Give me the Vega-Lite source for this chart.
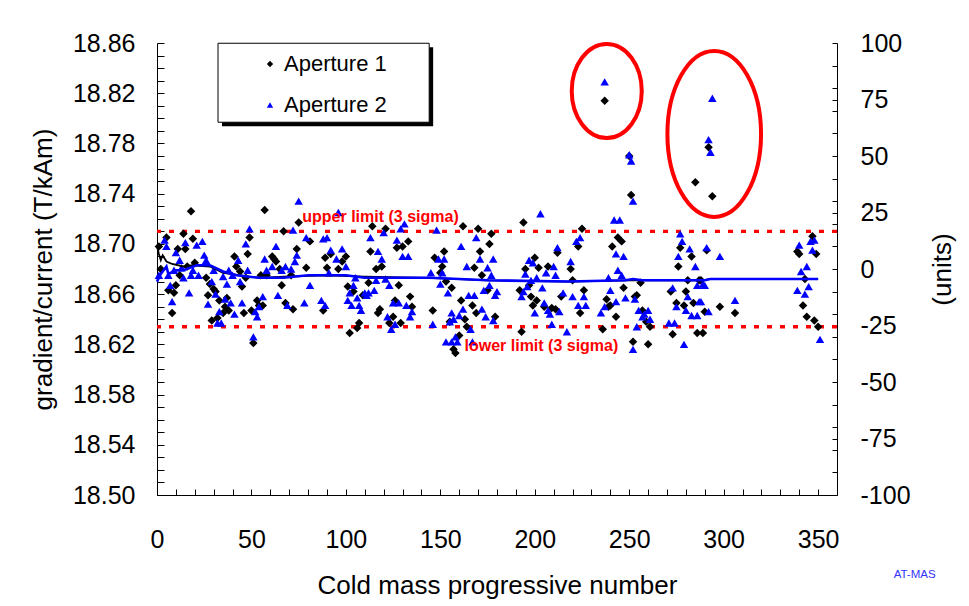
{
"$schema": "https://vega.github.io/schema/vega-lite/v6.json",
"width": 680, "height": 452,
"autosize": {"type": "none"},
"padding": {"left": 157, "top": 43, "right": 132, "bottom": 111},
"background": "white",
"config": {"view": {"stroke": null}, "font": "Liberation Sans",
  "axis": {"grid": false, "domainColor": "black", "tickColor": "black", "labelColor": "black", "titleColor": "black", "labelFont": "Liberation Sans", "titleFont": "Liberation Sans", "titleFontWeight": "normal", "labelOverlap": false, "labelBound": false, "labelFlush": false}},
"datasets": {
"pts": [
{"n":18,"g":18.726,"s":"Aperture 1"},{"n":57,"g":18.727,"s":"Aperture 1"},{"n":14,"g":18.708,"s":"Aperture 1"},{"n":19,"g":18.704,"s":"Aperture 1"},{"n":5,"g":18.705,"s":"Aperture 1"},{"n":49,"g":18.705,"s":"Aperture 1"},{"n":67,"g":18.710,"s":"Aperture 1"},{"n":1,"g":18.698,"s":"Aperture 1"},{"n":11,"g":18.696,"s":"Aperture 1"},{"n":15,"g":18.696,"s":"Aperture 1"},{"n":20,"g":18.685,"s":"Aperture 1"},{"n":48,"g":18.692,"s":"Aperture 1"},{"n":41,"g":18.690,"s":"Aperture 1"},{"n":42,"g":18.682,"s":"Aperture 1"},{"n":44,"g":18.678,"s":"Aperture 1"},{"n":61,"g":18.690,"s":"Aperture 1"},{"n":62,"g":18.688,"s":"Aperture 1"},{"n":2,"g":18.680,"s":"Aperture 1"},{"n":12,"g":18.675,"s":"Aperture 1"},{"n":16,"g":18.682,"s":"Aperture 1"},{"n":26,"g":18.673,"s":"Aperture 1"},{"n":28,"g":18.668,"s":"Aperture 1"},{"n":30,"g":18.664,"s":"Aperture 1"},{"n":31,"g":18.662,"s":"Aperture 1"},{"n":6,"g":18.663,"s":"Aperture 1"},{"n":9,"g":18.661,"s":"Aperture 1"},{"n":10,"g":18.667,"s":"Aperture 1"},{"n":27,"g":18.659,"s":"Aperture 1"},{"n":33,"g":18.655,"s":"Aperture 1"},{"n":37,"g":18.657,"s":"Aperture 1"},{"n":36,"g":18.650,"s":"Aperture 1"},{"n":38,"g":18.647,"s":"Aperture 1"},{"n":35,"g":18.645,"s":"Aperture 1"},{"n":32,"g":18.641,"s":"Aperture 1"},{"n":29,"g":18.639,"s":"Aperture 1"},{"n":8,"g":18.645,"s":"Aperture 1"},{"n":45,"g":18.666,"s":"Aperture 1"},{"n":47,"g":18.673,"s":"Aperture 1"},{"n":46,"g":18.645,"s":"Aperture 1"},{"n":50,"g":18.647,"s":"Aperture 1"},{"n":53,"g":18.655,"s":"Aperture 1"},{"n":54,"g":18.651,"s":"Aperture 1"},{"n":56,"g":18.651,"s":"Aperture 1"},{"n":51,"g":18.621,"s":"Aperture 1"},{"n":55,"g":18.675,"s":"Aperture 1"},{"n":58,"g":18.675,"s":"Aperture 1"},{"n":66,"g":18.667,"s":"Aperture 1"},{"n":68,"g":18.653,"s":"Aperture 1"},{"n":63,"g":18.686,"s":"Aperture 1"},{"n":65,"g":18.680,"s":"Aperture 1"},
{"n":75,"g":18.717,"s":"Aperture 1"},{"n":114,"g":18.714,"s":"Aperture 1"},{"n":121,"g":18.712,"s":"Aperture 1"},{"n":81,"g":18.702,"s":"Aperture 1"},{"n":133,"g":18.702,"s":"Aperture 1"},{"n":130,"g":18.698,"s":"Aperture 1"},{"n":127,"g":18.697,"s":"Aperture 1"},{"n":74,"g":18.696,"s":"Aperture 1"},{"n":113,"g":18.694,"s":"Aperture 1"},{"n":89,"g":18.689,"s":"Aperture 1"},{"n":92,"g":18.692,"s":"Aperture 1"},{"n":100,"g":18.690,"s":"Aperture 1"},{"n":98,"g":18.686,"s":"Aperture 1"},{"n":79,"g":18.681,"s":"Aperture 1"},{"n":90,"g":18.681,"s":"Aperture 1"},{"n":96,"g":18.680,"s":"Aperture 1"},{"n":119,"g":18.682,"s":"Aperture 1"},{"n":116,"g":18.680,"s":"Aperture 1"},{"n":71,"g":18.675,"s":"Aperture 1"},{"n":112,"g":18.669,"s":"Aperture 1"},{"n":101,"g":18.666,"s":"Aperture 1"},{"n":104,"g":18.662,"s":"Aperture 1"},{"n":109,"g":18.659,"s":"Aperture 1"},{"n":128,"g":18.667,"s":"Aperture 1"},{"n":88,"g":18.647,"s":"Aperture 1"},{"n":72,"g":18.648,"s":"Aperture 1"},{"n":126,"g":18.655,"s":"Aperture 1"},{"n":134,"g":18.658,"s":"Aperture 1"},{"n":135,"g":18.650,"s":"Aperture 1"},{"n":118,"g":18.648,"s":"Aperture 1"},{"n":117,"g":18.645,"s":"Aperture 1"},{"n":125,"g":18.642,"s":"Aperture 1"},{"n":123,"g":18.637,"s":"Aperture 1"},{"n":129,"g":18.637,"s":"Aperture 1"},{"n":107,"g":18.637,"s":"Aperture 1"},{"n":106,"g":18.633,"s":"Aperture 1"},{"n":102,"g":18.629,"s":"Aperture 1"},
{"n":162,"g":18.714,"s":"Aperture 1"},{"n":170,"g":18.712,"s":"Aperture 1"},{"n":177,"g":18.708,"s":"Aperture 1"},{"n":176,"g":18.700,"s":"Aperture 1"},{"n":194,"g":18.717,"s":"Aperture 1"},{"n":152,"g":18.694,"s":"Aperture 1"},{"n":171,"g":18.694,"s":"Aperture 1"},{"n":147,"g":18.689,"s":"Aperture 1"},{"n":151,"g":18.682,"s":"Aperture 1"},{"n":168,"g":18.681,"s":"Aperture 1"},{"n":212,"g":18.693,"s":"Aperture 1"},{"n":200,"g":18.689,"s":"Aperture 1"},{"n":202,"g":18.681,"s":"Aperture 1"},{"n":207,"g":18.682,"s":"Aperture 1"},{"n":195,"g":18.680,"s":"Aperture 1"},{"n":150,"g":18.677,"s":"Aperture 1"},{"n":172,"g":18.675,"s":"Aperture 1"},{"n":153,"g":18.670,"s":"Aperture 1"},{"n":156,"g":18.665,"s":"Aperture 1"},{"n":175,"g":18.663,"s":"Aperture 1"},{"n":192,"g":18.663,"s":"Aperture 1"},{"n":197,"g":18.667,"s":"Aperture 1"},{"n":198,"g":18.658,"s":"Aperture 1"},{"n":214,"g":18.658,"s":"Aperture 1"},{"n":161,"g":18.655,"s":"Aperture 1"},{"n":167,"g":18.651,"s":"Aperture 1"},{"n":199,"g":18.651,"s":"Aperture 1"},{"n":201,"g":18.655,"s":"Aperture 1"},{"n":205,"g":18.650,"s":"Aperture 1"},{"n":209,"g":18.649,"s":"Aperture 1"},{"n":211,"g":18.648,"s":"Aperture 1"},{"n":146,"g":18.647,"s":"Aperture 1"},{"n":169,"g":18.645,"s":"Aperture 1"},{"n":179,"g":18.642,"s":"Aperture 1"},{"n":163,"g":18.640,"s":"Aperture 1"},{"n":155,"g":18.638,"s":"Aperture 1"},{"n":164,"g":18.634,"s":"Aperture 1"},{"n":193,"g":18.630,"s":"Aperture 1"},{"n":160,"g":18.627,"s":"Aperture 1"},{"n":157,"g":18.616,"s":"Aperture 1"},{"n":158,"g":18.613,"s":"Aperture 1"},
{"n":285,"g":18.749,"s":"Aperture 1"},{"n":251,"g":18.739,"s":"Aperture 1"},{"n":225,"g":18.712,"s":"Aperture 1"},{"n":223,"g":18.698,"s":"Aperture 1"},{"n":244,"g":18.705,"s":"Aperture 1"},{"n":246,"g":18.702,"s":"Aperture 1"},{"n":241,"g":18.698,"s":"Aperture 1"},{"n":277,"g":18.697,"s":"Aperture 1"},{"n":283,"g":18.690,"s":"Aperture 1"},{"n":276,"g":18.682,"s":"Aperture 1"},{"n":219,"g":18.680,"s":"Aperture 1"},{"n":220,"g":18.671,"s":"Aperture 1"},{"n":256,"g":18.669,"s":"Aperture 1"},{"n":226,"g":18.663,"s":"Aperture 1"},{"n":247,"g":18.665,"s":"Aperture 1"},{"n":272,"g":18.662,"s":"Aperture 1"},{"n":281,"g":18.671,"s":"Aperture 1"},{"n":287,"g":18.671,"s":"Aperture 1"},{"n":238,"g":18.656,"s":"Aperture 1"},{"n":253,"g":18.658,"s":"Aperture 1"},{"n":254,"g":18.659,"s":"Aperture 1"},{"n":280,"g":18.662,"s":"Aperture 1"},{"n":275,"g":18.653,"s":"Aperture 1"},{"n":284,"g":18.653,"s":"Aperture 1"},{"n":240,"g":18.651,"s":"Aperture 1"},{"n":239,"g":18.650,"s":"Aperture 1"},{"n":257,"g":18.647,"s":"Aperture 1"},{"n":279,"g":18.651,"s":"Aperture 1"},{"n":224,"g":18.645,"s":"Aperture 1"},{"n":243,"g":18.642,"s":"Aperture 1"},{"n":259,"g":18.638,"s":"Aperture 1"},{"n":261,"g":18.634,"s":"Aperture 1"},{"n":236,"g":18.632,"s":"Aperture 1"},{"n":273,"g":18.628,"s":"Aperture 1"},{"n":286,"g":18.629,"s":"Aperture 1"},{"n":252,"g":18.622,"s":"Aperture 1"},{"n":260,"g":18.620,"s":"Aperture 1"},
{"n":294,"g":18.738,"s":"Aperture 1"},{"n":291,"g":18.695,"s":"Aperture 1"},{"n":339,"g":18.694,"s":"Aperture 1"},{"n":340,"g":18.692,"s":"Aperture 1"},{"n":347,"g":18.706,"s":"Aperture 1"},{"n":349,"g":18.692,"s":"Aperture 1"},{"n":343,"g":18.672,"s":"Aperture 1"},{"n":288,"g":18.671,"s":"Aperture 1"},{"n":342,"g":18.651,"s":"Aperture 1"},{"n":298,"g":18.650,"s":"Aperture 1"},{"n":290,"g":18.646,"s":"Aperture 1"},{"n":306,"g":18.645,"s":"Aperture 1"},{"n":344,"g":18.642,"s":"Aperture 1"},{"n":348,"g":18.639,"s":"Aperture 1"},{"n":350,"g":18.634,"s":"Aperture 1"},{"n":289,"g":18.629,"s":"Aperture 1"},{"n":237,"g":18.814,"s":"Aperture 1"},{"n":292,"g":18.777,"s":"Aperture 1"},{"n":250,"g":18.770,"s":"Aperture 1"},
{"n":4,"g":18.703,"s":"Aperture 2"},{"n":5,"g":18.698,"s":"Aperture 2"},{"n":15,"g":18.701,"s":"Aperture 2"},{"n":21,"g":18.699,"s":"Aperture 2"},{"n":24,"g":18.702,"s":"Aperture 2"},{"n":10,"g":18.693,"s":"Aperture 2"},{"n":12,"g":18.687,"s":"Aperture 2"},{"n":13,"g":18.681,"s":"Aperture 2"},{"n":25,"g":18.691,"s":"Aperture 2"},{"n":26,"g":18.687,"s":"Aperture 2"},{"n":49,"g":18.712,"s":"Aperture 2"},{"n":47,"g":18.700,"s":"Aperture 2"},{"n":43,"g":18.687,"s":"Aperture 2"},{"n":63,"g":18.698,"s":"Aperture 2"},{"n":57,"g":18.688,"s":"Aperture 2"},{"n":1,"g":18.675,"s":"Aperture 2"},{"n":6,"g":18.675,"s":"Aperture 2"},{"n":9,"g":18.679,"s":"Aperture 2"},{"n":14,"g":18.673,"s":"Aperture 2"},{"n":18,"g":18.675,"s":"Aperture 2"},{"n":19,"g":18.679,"s":"Aperture 2"},{"n":22,"g":18.675,"s":"Aperture 2"},{"n":30,"g":18.679,"s":"Aperture 2"},{"n":38,"g":18.679,"s":"Aperture 2"},{"n":48,"g":18.679,"s":"Aperture 2"},{"n":58,"g":18.679,"s":"Aperture 2"},{"n":61,"g":18.682,"s":"Aperture 2"},{"n":66,"g":18.679,"s":"Aperture 2"},{"n":68,"g":18.682,"s":"Aperture 2"},{"n":35,"g":18.674,"s":"Aperture 2"},{"n":40,"g":18.675,"s":"Aperture 2"},{"n":44,"g":18.670,"s":"Aperture 2"},{"n":29,"g":18.670,"s":"Aperture 2"},{"n":37,"g":18.668,"s":"Aperture 2"},{"n":7,"g":18.667,"s":"Aperture 2"},{"n":17,"g":18.661,"s":"Aperture 2"},{"n":8,"g":18.654,"s":"Aperture 2"},{"n":31,"g":18.660,"s":"Aperture 2"},{"n":27,"g":18.652,"s":"Aperture 2"},{"n":36,"g":18.656,"s":"Aperture 2"},{"n":39,"g":18.653,"s":"Aperture 2"},{"n":45,"g":18.653,"s":"Aperture 2"},{"n":56,"g":18.658,"s":"Aperture 2"},{"n":54,"g":18.650,"s":"Aperture 2"},{"n":52,"g":18.646,"s":"Aperture 2"},{"n":53,"g":18.642,"s":"Aperture 2"},{"n":41,"g":18.644,"s":"Aperture 2"},{"n":33,"g":18.646,"s":"Aperture 2"},{"n":32,"g":18.637,"s":"Aperture 2"},{"n":34,"g":18.637,"s":"Aperture 2"},{"n":64,"g":18.659,"s":"Aperture 2"},{"n":51,"g":18.626,"s":"Aperture 2"},{"n":69,"g":18.651,"s":"Aperture 2"},
{"n":75,"g":18.734,"s":"Aperture 2"},{"n":96,"g":18.725,"s":"Aperture 2"},{"n":72,"g":18.711,"s":"Aperture 2"},{"n":129,"g":18.712,"s":"Aperture 2"},{"n":131,"g":18.716,"s":"Aperture 2"},{"n":120,"g":18.709,"s":"Aperture 2"},{"n":113,"g":18.705,"s":"Aperture 2"},{"n":79,"g":18.705,"s":"Aperture 2"},{"n":90,"g":18.705,"s":"Aperture 2"},{"n":88,"g":18.704,"s":"Aperture 2"},{"n":127,"g":18.703,"s":"Aperture 2"},{"n":98,"g":18.696,"s":"Aperture 2"},{"n":92,"g":18.695,"s":"Aperture 2"},{"n":117,"g":18.694,"s":"Aperture 2"},{"n":74,"g":18.691,"s":"Aperture 2"},{"n":95,"g":18.688,"s":"Aperture 2"},{"n":119,"g":18.688,"s":"Aperture 2"},{"n":130,"g":18.690,"s":"Aperture 2"},{"n":133,"g":18.690,"s":"Aperture 2"},{"n":73,"g":18.686,"s":"Aperture 2"},{"n":100,"g":18.682,"s":"Aperture 2"},{"n":71,"g":18.680,"s":"Aperture 2"},{"n":91,"g":18.677,"s":"Aperture 2"},{"n":105,"g":18.673,"s":"Aperture 2"},{"n":116,"g":18.671,"s":"Aperture 2"},{"n":121,"g":18.672,"s":"Aperture 2"},{"n":81,"g":18.667,"s":"Aperture 2"},{"n":104,"g":18.667,"s":"Aperture 2"},{"n":102,"g":18.661,"s":"Aperture 2"},{"n":110,"g":18.661,"s":"Aperture 2"},{"n":112,"g":18.661,"s":"Aperture 2"},{"n":115,"g":18.663,"s":"Aperture 2"},{"n":101,"g":18.655,"s":"Aperture 2"},{"n":106,"g":18.657,"s":"Aperture 2"},{"n":111,"g":18.659,"s":"Aperture 2"},{"n":123,"g":18.667,"s":"Aperture 2"},{"n":87,"g":18.655,"s":"Aperture 2"},{"n":78,"g":18.653,"s":"Aperture 2"},{"n":89,"g":18.651,"s":"Aperture 2"},{"n":103,"g":18.651,"s":"Aperture 2"},{"n":107,"g":18.651,"s":"Aperture 2"},{"n":108,"g":18.647,"s":"Aperture 2"},{"n":125,"g":18.653,"s":"Aperture 2"},{"n":128,"g":18.653,"s":"Aperture 2"},{"n":132,"g":18.651,"s":"Aperture 2"},{"n":135,"g":18.646,"s":"Aperture 2"},{"n":134,"g":18.642,"s":"Aperture 2"},{"n":122,"g":18.642,"s":"Aperture 2"},{"n":126,"g":18.636,"s":"Aperture 2"},{"n":124,"g":18.632,"s":"Aperture 2"},
{"n":148,"g":18.711,"s":"Aperture 2"},{"n":169,"g":18.705,"s":"Aperture 2"},{"n":203,"g":18.724,"s":"Aperture 2"},{"n":161,"g":18.698,"s":"Aperture 2"},{"n":149,"g":18.688,"s":"Aperture 2"},{"n":152,"g":18.688,"s":"Aperture 2"},{"n":171,"g":18.688,"s":"Aperture 2"},{"n":178,"g":18.688,"s":"Aperture 2"},{"n":164,"g":18.682,"s":"Aperture 2"},{"n":175,"g":18.681,"s":"Aperture 2"},{"n":212,"g":18.697,"s":"Aperture 2"},{"n":197,"g":18.687,"s":"Aperture 2"},{"n":199,"g":18.685,"s":"Aperture 2"},{"n":210,"g":18.682,"s":"Aperture 2"},{"n":206,"g":18.677,"s":"Aperture 2"},{"n":201,"g":18.673,"s":"Aperture 2"},{"n":195,"g":18.676,"s":"Aperture 2"},{"n":145,"g":18.677,"s":"Aperture 2"},{"n":151,"g":18.677,"s":"Aperture 2"},{"n":177,"g":18.675,"s":"Aperture 2"},{"n":211,"g":18.675,"s":"Aperture 2"},{"n":198,"g":18.671,"s":"Aperture 2"},{"n":150,"g":18.668,"s":"Aperture 2"},{"n":176,"g":18.667,"s":"Aperture 2"},{"n":173,"g":18.663,"s":"Aperture 2"},{"n":180,"g":18.662,"s":"Aperture 2"},{"n":196,"g":18.666,"s":"Aperture 2"},{"n":194,"g":18.662,"s":"Aperture 2"},{"n":204,"g":18.665,"s":"Aperture 2"},{"n":193,"g":18.658,"s":"Aperture 2"},{"n":154,"g":18.661,"s":"Aperture 2"},{"n":165,"g":18.659,"s":"Aperture 2"},{"n":168,"g":18.659,"s":"Aperture 2"},{"n":179,"g":18.659,"s":"Aperture 2"},{"n":215,"g":18.661,"s":"Aperture 2"},{"n":205,"g":18.653,"s":"Aperture 2"},{"n":207,"g":18.647,"s":"Aperture 2"},{"n":208,"g":18.644,"s":"Aperture 2"},{"n":213,"g":18.646,"s":"Aperture 2"},{"n":162,"g":18.648,"s":"Aperture 2"},{"n":172,"g":18.648,"s":"Aperture 2"},{"n":160,"g":18.643,"s":"Aperture 2"},{"n":156,"g":18.645,"s":"Aperture 2"},{"n":200,"g":18.645,"s":"Aperture 2"},{"n":174,"g":18.642,"s":"Aperture 2"},{"n":178,"g":18.639,"s":"Aperture 2"},{"n":157,"g":18.640,"s":"Aperture 2"},{"n":155,"g":18.638,"s":"Aperture 2"},{"n":166,"g":18.632,"s":"Aperture 2"},{"n":146,"g":18.636,"s":"Aperture 2"},{"n":209,"g":18.636,"s":"Aperture 2"},{"n":217,"g":18.630,"s":"Aperture 2"},{"n":158,"g":18.626,"s":"Aperture 2"},{"n":153,"g":18.622,"s":"Aperture 2"},{"n":156,"g":18.622,"s":"Aperture 2"},{"n":159,"g":18.622,"s":"Aperture 2"},{"n":167,"g":18.622,"s":"Aperture 2"},
{"n":242,"g":18.719,"s":"Aperture 2"},{"n":245,"g":18.719,"s":"Aperture 2"},{"n":224,"g":18.705,"s":"Aperture 2"},{"n":222,"g":18.702,"s":"Aperture 2"},{"n":243,"g":18.692,"s":"Aperture 2"},{"n":247,"g":18.690,"s":"Aperture 2"},{"n":277,"g":18.708,"s":"Aperture 2"},{"n":278,"g":18.702,"s":"Aperture 2"},{"n":282,"g":18.696,"s":"Aperture 2"},{"n":291,"g":18.697,"s":"Aperture 2"},{"n":276,"g":18.690,"s":"Aperture 2"},{"n":285,"g":18.682,"s":"Aperture 2"},{"n":219,"g":18.686,"s":"Aperture 2"},{"n":244,"g":18.679,"s":"Aperture 2"},{"n":246,"g":18.675,"s":"Aperture 2"},{"n":239,"g":18.673,"s":"Aperture 2"},{"n":240,"g":18.663,"s":"Aperture 2"},{"n":273,"g":18.665,"s":"Aperture 2"},{"n":286,"g":18.667,"s":"Aperture 2"},{"n":289,"g":18.668,"s":"Aperture 2"},{"n":220,"g":18.658,"s":"Aperture 2"},{"n":226,"g":18.658,"s":"Aperture 2"},{"n":243,"g":18.654,"s":"Aperture 2"},{"n":248,"g":18.657,"s":"Aperture 2"},{"n":253,"g":18.656,"s":"Aperture 2"},{"n":281,"g":18.658,"s":"Aperture 2"},{"n":287,"g":18.654,"s":"Aperture 2"},{"n":223,"g":18.651,"s":"Aperture 2"},{"n":227,"g":18.651,"s":"Aperture 2"},{"n":237,"g":18.650,"s":"Aperture 2"},{"n":255,"g":18.647,"s":"Aperture 2"},{"n":260,"g":18.647,"s":"Aperture 2"},{"n":258,"g":18.644,"s":"Aperture 2"},{"n":280,"g":18.647,"s":"Aperture 2"},{"n":275,"g":18.650,"s":"Aperture 2"},{"n":283,"g":18.643,"s":"Aperture 2"},{"n":286,"g":18.643,"s":"Aperture 2"},{"n":292,"g":18.646,"s":"Aperture 2"},{"n":235,"g":18.645,"s":"Aperture 2"},{"n":257,"g":18.642,"s":"Aperture 2"},{"n":261,"g":18.640,"s":"Aperture 2"},{"n":254,"g":18.634,"s":"Aperture 2"},{"n":271,"g":18.637,"s":"Aperture 2"},{"n":274,"g":18.637,"s":"Aperture 2"},{"n":252,"g":18.616,"s":"Aperture 2"},{"n":279,"g":18.620,"s":"Aperture 2"},
{"n":298,"g":18.690,"s":"Aperture 2"},{"n":340,"g":18.699,"s":"Aperture 2"},{"n":348,"g":18.703,"s":"Aperture 2"},{"n":346,"g":18.702,"s":"Aperture 2"},{"n":347,"g":18.695,"s":"Aperture 2"},{"n":344,"g":18.682,"s":"Aperture 2"},{"n":341,"g":18.678,"s":"Aperture 2"},{"n":290,"g":18.667,"s":"Aperture 2"},{"n":345,"g":18.666,"s":"Aperture 2"},{"n":339,"g":18.663,"s":"Aperture 2"},{"n":343,"g":18.660,"s":"Aperture 2"},{"n":288,"g":18.654,"s":"Aperture 2"},{"n":306,"g":18.655,"s":"Aperture 2"},{"n":351,"g":18.624,"s":"Aperture 2"},{"n":237,"g":18.829,"s":"Aperture 2"},{"n":294,"g":18.816,"s":"Aperture 2"},{"n":292,"g":18.783,"s":"Aperture 2"},{"n":293,"g":18.773,"s":"Aperture 2"},{"n":250,"g":18.771,"s":"Aperture 2"},{"n":251,"g":18.766,"s":"Aperture 2"},{"n":252,"g":18.734,"s":"Aperture 2"}
],
"ma1": [{"n":0,"g":18.698},{"n":1,"g":18.692},{"n":2,"g":18.687},{"n":3,"g":18.691},{"n":5,"g":18.686},{"n":8,"g":18.684},{"n":14,"g":18.682},{"n":19,"g":18.683},{"n":28,"g":18.682},{"n":35,"g":18.677},{"n":49,"g":18.674},{"n":55,"g":18.673},{"n":67,"g":18.674},{"n":90,"g":18.675},{"n":110,"g":18.674},{"n":144,"g":18.673},{"n":175,"g":18.671},{"n":218,"g":18.670},{"n":250,"g":18.671},{"n":290,"g":18.671},{"n":292,"g":18.672},{"n":350,"g":18.672}],
"ma2": [{"n":0,"g":18.670},{"n":2,"g":18.676},{"n":5,"g":18.682},{"n":6,"g":18.676},{"n":10,"g":18.679},{"n":14,"g":18.679},{"n":21,"g":18.683},{"n":28,"g":18.683},{"n":35,"g":18.678},{"n":42,"g":18.675},{"n":54,"g":18.673},{"n":67,"g":18.673},{"n":80,"g":18.675},{"n":100,"g":18.675},{"n":110,"g":18.673},{"n":144,"g":18.673},{"n":160,"g":18.672},{"n":175,"g":18.671},{"n":218,"g":18.670},{"n":248,"g":18.671},{"n":252,"g":18.672},{"n":257,"g":18.671},{"n":290,"g":18.671},{"n":293,"g":18.672},{"n":350,"g":18.672}]
},
"layer": [
 {"layer": [
  {"data": {"values": [{"n":34.4,"n2":146.2,"g":18.8566,"g2":18.7937}]},
   "mark": {"type": "rect", "color": "black"},
   "encoding": {"x": {"field": "n", "type": "quantitative"}, "x2": {"field": "n2"}, "y": {"field": "g", "type": "quantitative"}, "y2": {"field": "g2"}}},
  {"data": {"values": [{"n":32.3,"n2":144.1,"g":18.8598,"g2":18.7969}]},
   "mark": {"type": "rect", "fill": "white", "stroke": "black", "strokeWidth": 1},
   "encoding": {"x": {"field": "n", "type": "quantitative"}, "x2": {"field": "n2"}, "y": {"field": "g", "type": "quantitative"}, "y2": {"field": "g2"}}},
  {"data": {"values": [{"g": 18.71}, {"g": 18.634}]},
   "mark": {"type": "rule", "color": "#ff0000", "strokeWidth": 3.3, "strokeDash": [5, 8]},
   "encoding": {"y": {"field": "g", "type": "quantitative"}}},
  {"data": {"name": "pts"},
   "mark": {"type": "point", "filled": true, "size": 72, "opacity": 1},
   "encoding": {
    "x": {"field": "n", "type": "quantitative", "scale": {"domain": [0, 360], "nice": false},
      "axis": {"title": "Cold mass progressive number", "tickCount": 100, "values": [0,10,20,30,40,50,60,70,80,90,100,110,120,130,140,150,160,170,180,190,200,210,220,230,240,250,260,270,280,290,300,310,320,330,340,350,360],
        "labelExpr": "(datum.value % 50 == 0 && datum.value <= 350) ? datum.label : ''", "labelOverlap": false,
        "tickSize": -6, "labelPadding": 38, "labelFontSize": 25, "titleFontSize": 26, "titleY": 98, "titleBaseline": "alphabetic"}},
    "y": {"field": "g", "type": "quantitative", "scale": {"domain": [18.5, 18.86], "nice": false, "zero": false},
      "axis": {"title": "gradient/current (T/kAm)", "tickCount": 100, "values": [18.5,18.51,18.52,18.53,18.54,18.55,18.56,18.57,18.58,18.59,18.6,18.61,18.62,18.63,18.64,18.65,18.66,18.67,18.68,18.69,18.7,18.71,18.72,18.73,18.74,18.75,18.76,18.77,18.78,18.79,18.8,18.81,18.82,18.83,18.84,18.85,18.86],
        "labelExpr": "(round((datum.value - 18.5) * 100) % 4 == 0) ? format(datum.value, '.2f') : ''", "labelOverlap": false,
        "tickSize": -7, "labelPadding": 29, "labelFontSize": 25, "titleFontSize": 26, "titleX": -114, "titleY": 226, "titleAngle": 270, "titleAlign": "center", "titleBaseline": "middle"}},
    "color": {"field": "s", "type": "nominal", "scale": {"domain": ["Aperture 1", "Aperture 2"], "range": ["#000000", "#0000ff"]},
      "legend": {"title": null, "orient": "none", "legendX": 61, "legendY": 2, "padding": 8, "symbolOffset": 33, "labelOffset": 3, "labelFontSize": 22, "labelFont": "Liberation Sans", "labelColor": "black", "rowPadding": 19, "symbolSize": 40}},
    "shape": {"field": "s", "type": "nominal", "scale": {"domain": ["Aperture 1", "Aperture 2"], "range": ["diamond", "triangle-up"]}}
   }},
  {"data": {"name": "ma1"},
   "mark": {"type": "line", "color": "#000000", "strokeWidth": 1.8},
   "encoding": {"x": {"field": "n", "type": "quantitative"}, "y": {"field": "g", "type": "quantitative"}}},
  {"data": {"name": "ma2"},
   "mark": {"type": "line", "color": "#0000ff", "strokeWidth": 2.6},
   "encoding": {"x": {"field": "n", "type": "quantitative"}, "y": {"field": "g", "type": "quantitative"}}},
  {"data": {"values": [{"n": 76.9, "g": 18.7173, "t": "upper limit (3 sigma)"}, {"n": 162.8, "g": 18.6143, "t": "lower limit (3 sigma)"}]},
   "mark": {"type": "text", "align": "left", "baseline": "alphabetic", "fontSize": 16, "fontWeight": "bold", "color": "#ff0000", "font": "Liberation Sans"},
   "encoding": {"x": {"field": "n", "type": "quantitative"}, "y": {"field": "g", "type": "quantitative"}, "text": {"field": "t"}}},
  {"data": {"values": [{"n": 238.1, "g": 18.8218}]},
   "mark": {"type": "point", "shape": "M0,-1C0.411,-1,0.745,-0.552,0.745,0C0.745,0.552,0.411,1,0,1C-0.411,1,-0.745,0.552,-0.745,0C-0.745,-0.552,-0.411,-1,0,-1Z", "size": 8836, "filled": false, "stroke": "#ff0000", "strokeWidth": 4, "opacity": 1},
   "encoding": {"x": {"field": "n", "type": "quantitative"}, "y": {"field": "g", "type": "quantitative"}}},
  {"data": {"values": [{"n": 295.0, "g": 18.7876}]},
   "mark": {"type": "point", "shape": "M0,-1C0.311,-1,0.564,-0.552,0.564,0C0.564,0.552,0.311,1,0,1C-0.311,1,-0.564,0.552,-0.564,0C-0.564,-0.552,-0.311,-1,0,-1Z", "size": 27556, "filled": false, "stroke": "#ff0000", "strokeWidth": 4, "opacity": 1},
   "encoding": {"x": {"field": "n", "type": "quantitative"}, "y": {"field": "g", "type": "quantitative"}}},
  {"data": {"values": [{"n": 401.1, "g": 18.436, "t": "AT-MAS"}]},
   "mark": {"type": "text", "align": "center", "baseline": "middle", "fontSize": 11.5, "color": "#3333ff", "font": "Liberation Sans"},
   "encoding": {"x": {"field": "n", "type": "quantitative"}, "y": {"field": "g", "type": "quantitative"}, "text": {"field": "t"}}}
 ]},
 {"data": {"values": [{"u": -100}, {"u": 100}]},
  "mark": {"type": "point", "opacity": 0},
  "encoding": {"y": {"field": "u", "type": "quantitative", "scale": {"domain": [-100, 100], "nice": false},
    "axis": {"orient": "right", "title": "(units)", "tickCount": 100, "values": [-100,-90,-80,-75,-70,-60,-50,-40,-30,-25,-20,-10,0,10,20,25,30,40,50,60,70,75,80,90,100],
      "labelExpr": "(datum.value % 25 == 0) ? ('' + datum.value) : ''", "labelOverlap": false,
      "tickSize": -5, "labelPadding": 28, "labelFontSize": 25, "titleFontSize": 26, "titleX": 105, "titleY": 226, "titleAngle": 270, "titleAlign": "center", "titleBaseline": "middle"}}}}
],
"resolve": {"scale": {"y": "independent"}}
}
